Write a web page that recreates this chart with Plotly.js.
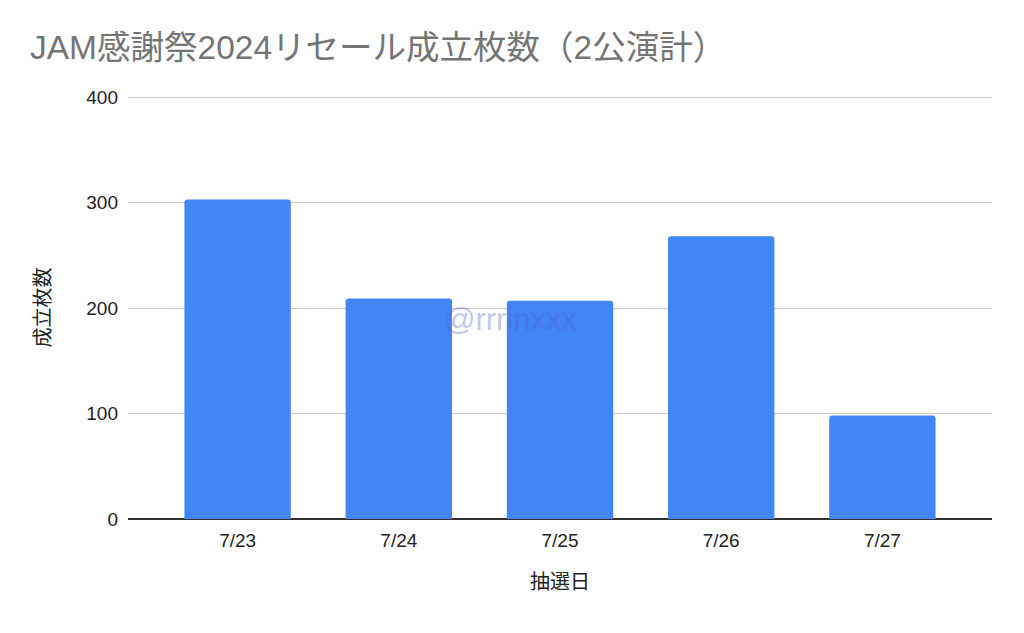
<!DOCTYPE html>
<html>
<head>
<meta charset="utf-8">
<script src="https://cdn.plot.ly/plotly-3.0.1.min.js"></script>
<style>html,body{margin:0;padding:0;background:#fff;}#chart{width:1024px;height:633px;}</style>
</head>
<body>
<div id="chart"></div>
<script>
const categories = ["7/23", "7/24", "7/25", "7/26", "7/27"];
const values = [303, 209, 207, 268, 98];
const yTicks = [0, 100, 200, 300, 400];

const FONT = '"Liberation Sans", Arial, "Noto Sans CJK JP", sans-serif';

const trace = {
  type: 'bar',
  x: categories,
  y: values,
  marker: {color: '#4285F4', line: {width: 0}, cornerradius: 3},
  hoverinfo: 'x+y'
};

const layout = {
  width: 1024,
  height: 633,
  margin: {l: 128, r: 32, t: 96, b: 114},
  paper_bgcolor: '#ffffff',
  plot_bgcolor: '#ffffff',
  bargap: 0.34,
  showlegend: false,
  font: {family: FONT, color: '#222222'},
  title: {
    text: 'JAM感謝祭2024リセール成立枚数（2公演計）',
    x: 30 / 1024, xref: 'container', xanchor: 'left',
    y: 1 - 47 / 633, yref: 'container', yanchor: 'middle',
    font: {family: FONT, size: 33.5, color: '#757575'}
  },
  xaxis: {
    type: 'category',
    range: [-0.68, 4.68],
    showgrid: false,
    showline: false,
    zeroline: false,
    ticks: '',
    tickfont: {size: 19, color: '#222222'},
    ticklabelstandoff: 8,
    title: {text: '抽選日', font: {size: 20, color: '#222222'}, standoff: 24}
  },
  yaxis: {
    range: [0, 401],
    tickvals: yTicks,
    ticktext: yTicks.map(String),
    showgrid: true,
    gridcolor: '#cccccc',
    gridwidth: 1,
    zeroline: true,
    zerolinecolor: '#333333',
    zerolinewidth: 1.5,
    showline: false,
    ticks: '',
    tickfont: {size: 19, color: '#222222'},
    ticklabelstandoff: 9,
    title: {text: '成立枚数', font: {size: 20, color: '#222222'}, standoff: 30}
  },
  annotations: [{
    text: '@rrrinxxx',
    xref: 'paper', yref: 'paper',
    x: (511 - 128) / 864, y: (519 - 319) / 423,
    xanchor: 'center', yanchor: 'middle',
    showarrow: false,
    font: {family: FONT, size: 31, color: 'rgba(90,90,205,0.36)'}
  }]
};

Plotly.newPlot('chart', [trace], layout, {displayModeBar: false, staticPlot: true});
</script>
</body>
</html>
